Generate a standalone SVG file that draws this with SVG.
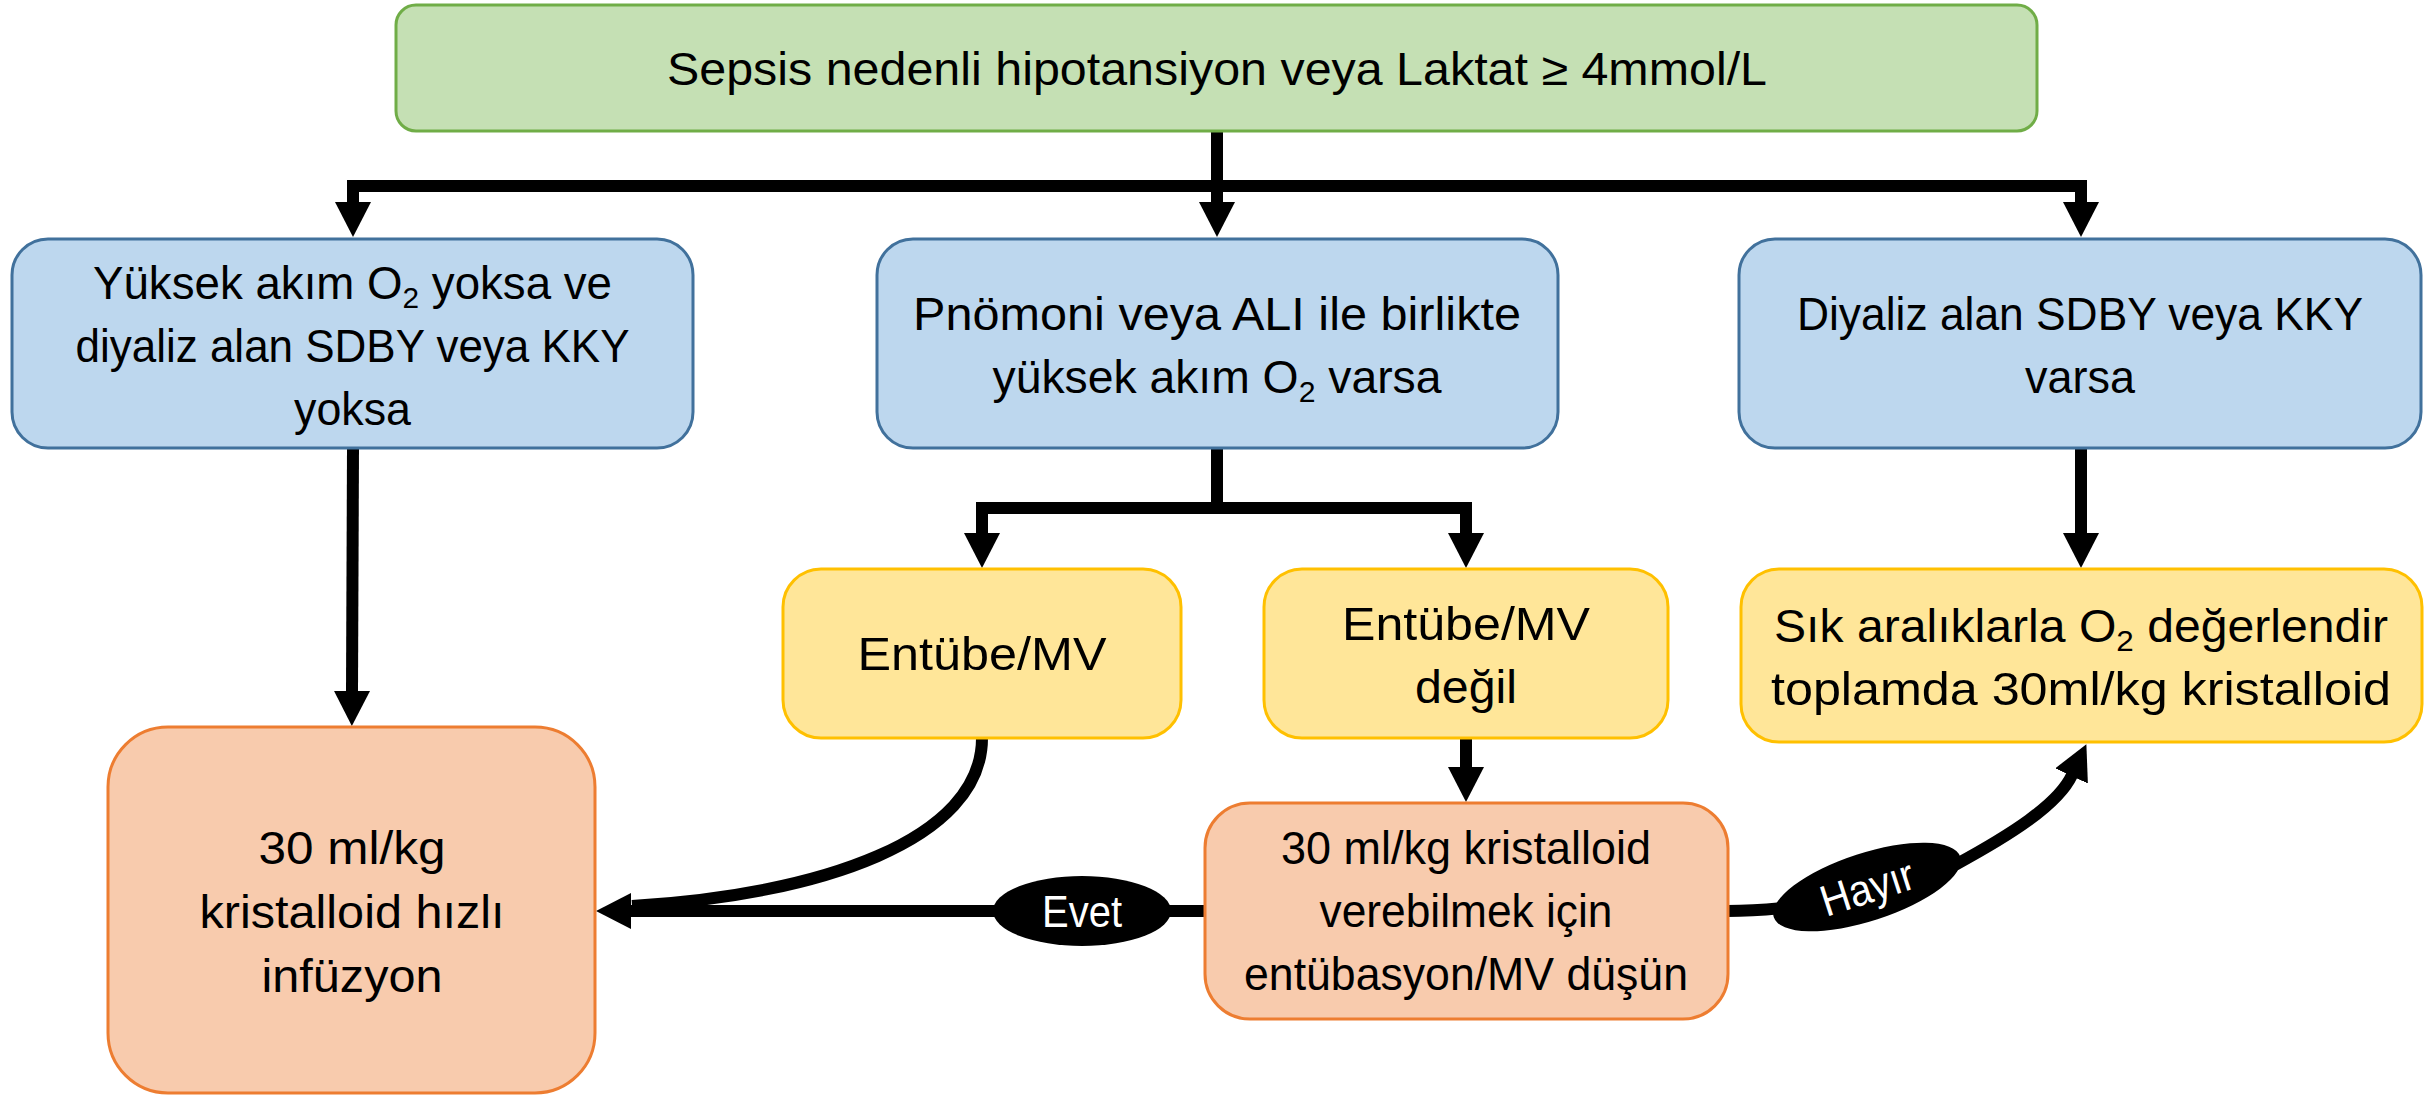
<svg xmlns="http://www.w3.org/2000/svg" width="2433" height="1095" viewBox="0 0 2433 1095">
<style>
  text { font-family: "Liberation Sans", Arial, sans-serif; font-size: 46px; fill: #000; text-anchor: middle; }
  .green { fill: #C5E0B4; stroke: #70AD47; stroke-width: 3; }
  .blue { fill: #BDD7EE; stroke: #41719C; stroke-width: 3; }
  .yellow { fill: #FFE699; stroke: #FFC000; stroke-width: 3; }
  .orange { fill: #F8CBAD; stroke: #ED7D31; stroke-width: 3; }
  .conn { fill: none; stroke: #000; stroke-width: 12; stroke-linejoin: miter; }
  .lbl { fill: #000; }
  .lbltext { fill: #fff; font-size: 44px; }
  .sub { font-size: 30px; }
</style>
<defs>
  <marker id="ah" markerUnits="userSpaceOnUse" markerWidth="36" markerHeight="36" refX="1" refY="18" orient="auto-start-reverse" viewBox="0 0 36 36">
    <path d="M0,0 L35,18 L0,36 z" fill="#000"/>
  </marker>
</defs>

<g id="connectors">
  <path class="conn" d="M1217 131 V203" marker-end="url(#ah)"/>
  <path class="conn" d="M353 203 V186 H2081 V203" marker-start="url(#ah)" marker-end="url(#ah)"/>
  <path class="conn" d="M353 448 L352 692" marker-end="url(#ah)"/>
  <path class="conn" d="M1217 448 V508"/>
  <path class="conn" d="M982 534 V508 H1466 V534" marker-start="url(#ah)" marker-end="url(#ah)"/>
  <path class="conn" d="M2081 448 V534" marker-end="url(#ah)"/>
  <path class="conn" d="M1466 738 V768" marker-end="url(#ah)"/>
  <path class="conn" d="M1205 911 H630" marker-end="url(#ah)"/>
  <path class="conn" d="M982 738 C982 840 820 895 632 906"/>
  <path class="conn" d="M1727 911 C1790 911 1900 895 1955 865 C2010 835 2058 805 2072 775" marker-end="url(#ah)"/>
  <g id="label-evet">
    <ellipse class="lbl" cx="1082" cy="911" rx="89" ry="35"/>
    <text class="lbltext" x="1082" y="927" textLength="80" lengthAdjust="spacingAndGlyphs">Evet</text>
  </g>
  <g id="label-hayir" transform="rotate(-18 1867 887)">
    <ellipse class="lbl" cx="1867" cy="887" rx="98" ry="34"/>
    <text class="lbltext" x="1867" y="903" textLength="96" lengthAdjust="spacingAndGlyphs">Hayır</text>
  </g>
</g>

<g id="n-start">
  <rect class="green" x="396" y="5" width="1641" height="126" rx="20"/>
  <text x="1217" y="85" textLength="1100" lengthAdjust="spacingAndGlyphs">Sepsis nedenli hipotansiyon veya Laktat ≥ 4mmol/L</text>
</g>

<g id="n-left">
  <rect class="blue" x="12" y="239" width="681" height="209" rx="36"/>
  <text x="352.5" y="299" textLength="519" lengthAdjust="spacingAndGlyphs">Yüksek akım O<tspan class="sub" dy="9">2</tspan><tspan dy="-9"> yoksa ve</tspan></text>
  <text x="352.5" y="362" textLength="554" lengthAdjust="spacingAndGlyphs">diyaliz alan SDBY veya KKY</text>
  <text x="352.5" y="425" textLength="117" lengthAdjust="spacingAndGlyphs">yoksa</text>
</g>

<g id="n-mid">
  <rect class="blue" x="877" y="239" width="681" height="209" rx="36"/>
  <text x="1217" y="330" textLength="608" lengthAdjust="spacingAndGlyphs">Pnömoni veya ALI ile birlikte</text>
  <text x="1217" y="393" textLength="449" lengthAdjust="spacingAndGlyphs">yüksek akım O<tspan class="sub" dy="9">2</tspan><tspan dy="-9"> varsa</tspan></text>
</g>

<g id="n-right">
  <rect class="blue" x="1739" y="239" width="682" height="209" rx="36"/>
  <text x="2080" y="330" textLength="566" lengthAdjust="spacingAndGlyphs">Diyaliz alan SDBY veya KKY</text>
  <text x="2080" y="393" textLength="110" lengthAdjust="spacingAndGlyphs">varsa</text>
</g>

<g id="n-intubated">
  <rect class="yellow" x="783" y="569" width="398" height="169" rx="38"/>
  <text x="982" y="670" textLength="249" lengthAdjust="spacingAndGlyphs">Entübe/MV</text>
</g>

<g id="n-not-intubated">
  <rect class="yellow" x="1264" y="569" width="404" height="169" rx="38"/>
  <text x="1466" y="640" textLength="248" lengthAdjust="spacingAndGlyphs">Entübe/MV</text>
  <text x="1466" y="703" textLength="102" lengthAdjust="spacingAndGlyphs">değil</text>
</g>

<g id="n-assess">
  <rect class="yellow" x="1741" y="569" width="681" height="173" rx="38"/>
  <text x="2081" y="642" textLength="614" lengthAdjust="spacingAndGlyphs">Sık aralıklarla O<tspan class="sub" dy="9">2</tspan><tspan dy="-9"> değerlendir</tspan></text>
  <text x="2081" y="705" textLength="620" lengthAdjust="spacingAndGlyphs">toplamda 30ml/kg kristalloid</text>
</g>

<g id="n-bolus">
  <rect class="orange" x="108" y="727" width="487" height="366" rx="60"/>
  <text x="352" y="864" textLength="187" lengthAdjust="spacingAndGlyphs">30 ml/kg</text>
  <text x="352" y="928" textLength="305" lengthAdjust="spacingAndGlyphs">kristalloid hızlı</text>
  <text x="352" y="992" textLength="181" lengthAdjust="spacingAndGlyphs">infüzyon</text>
</g>

<g id="n-consider">
  <rect class="orange" x="1205" y="803" width="523" height="216" rx="45"/>
  <text x="1466" y="864" textLength="370" lengthAdjust="spacingAndGlyphs">30 ml/kg kristalloid</text>
  <text x="1466" y="927" textLength="293" lengthAdjust="spacingAndGlyphs">verebilmek için</text>
  <text x="1466" y="990" textLength="444" lengthAdjust="spacingAndGlyphs">entübasyon/MV düşün</text>
</g>
</svg>
